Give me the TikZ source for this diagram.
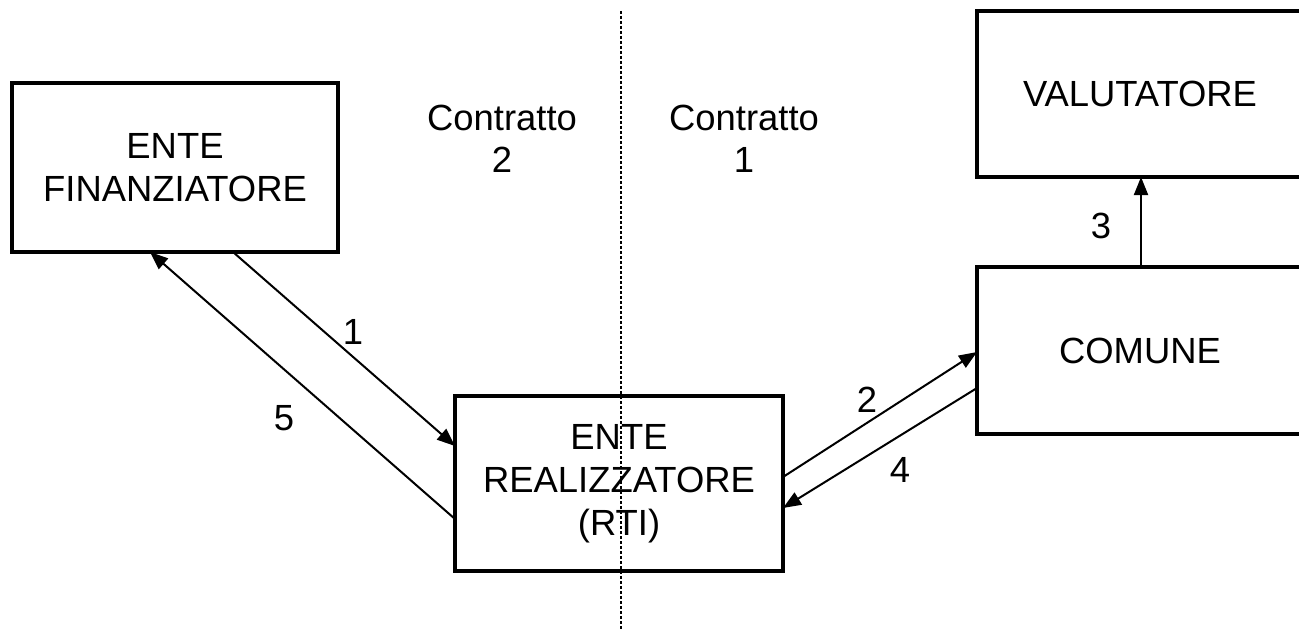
\documentclass[tikz,border=0pt]{standalone}
\usepackage{fontspec}
\setmainfont{Liberation Sans}
\usetikzlibrary{arrows.meta}
\begin{document}
\begin{tikzpicture}[x=0.5bp,y=-0.5bp,
  box/.style={draw,line width=2.2bp,inner sep=0pt,outer sep=0pt,align=center,
    font=\fontsize{18.2bp}{21.5bp}\selectfont},
  lbl/.style={inner sep=0pt,align=center,font=\fontsize{18.2bp}{21bp}\selectfont},
  conn/.style={line width=1bp,-{Triangle[length=9bp,width=7bp]}},
  sep/.style={line width=0.9bp,dash pattern=on 1.5bp off 1bp}]
\useasboundingbox (0,0) rectangle (1299,629);
\fill[white] (0,0) rectangle (1299,629);
\clip (0,0) rectangle (1299,629);
\node[box,minimum width=163bp,minimum height=84.5bp] (fin) at (175,167.5) {ENTE\\FINANZIATORE};
\node[box,minimum width=164bp,minimum height=87.5bp] (rea) at (619,483.5) {ENTE\\REALIZZATORE\\(RTI)};
\node[box,minimum width=163bp,minimum height=83bp] (val) at (1140,94) {\raisebox{-1.5bp}{VALUTATORE}};
\node[box,minimum width=163bp,minimum height=83.5bp] (com) at (1140,350.5) {COMUNE};
\coordinate (septop) at (621,11);
\coordinate (sepbot) at (621,629);
\draw[sep] (septop) -- (sepbot);
\node[lbl] (c2) at (502,139) {Contratto\\2};
\node[lbl] (c1) at (744,139) {Contratto\\1};
\draw[conn] (233,0 |- fin.south) -- (rea.west |- 0,446);
\draw[conn] (rea.west |- 0,519) -- (150,0 |- fin.south);
\draw[conn] (rea.east |- 0,477) -- (com.west |- 0,352);
\draw[conn] (com.west |- 0,388) -- (rea.east |- 0,508);
\draw[conn] (1141,0 |- com.north) -- (1141,0 |- val.south);
\node[lbl] (l1) at (353,332) {1};
\node[lbl] (l5) at (284,418) {5};
\node[lbl] (l2) at (867,400) {2};
\node[lbl] (l4) at (900,470) {4};
\node[lbl] (l3) at (1101,226) {3};
\end{tikzpicture}
\end{document}
